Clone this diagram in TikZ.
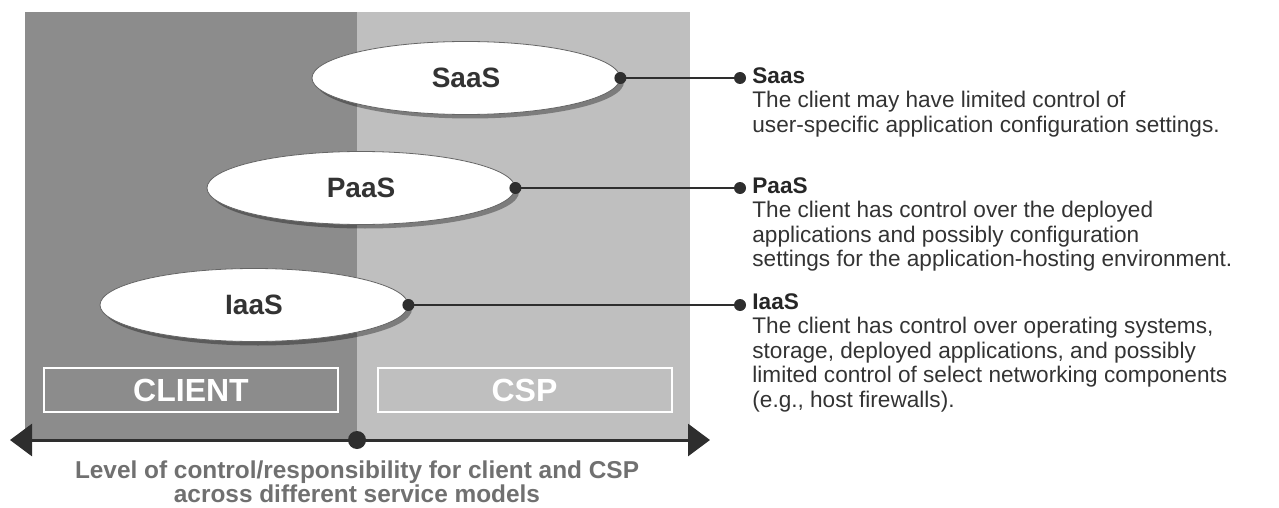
\documentclass[tikz,border=0pt]{standalone}
\usepackage{fontspec}
\setmainfont{Liberation Sans}
\usepackage{tikz}
\usetikzlibrary{arrows.meta, positioning, calc, shapes.geometric, shadows}
\definecolor{cdark}{HTML}{8C8C8C}
\definecolor{clight}{HTML}{BFBFBF}
\definecolor{ctext}{HTML}{333333}
\definecolor{ccap}{HTML}{707070}
\definecolor{cline}{HTML}{2E2E2E}

\begin{document}
\begin{tikzpicture}[x=0.5pt, y=-0.5pt,
  model/.style={ellipse, fill=white, draw=gray!80!black, line width=0.4pt,
    minimum width=154pt, minimum height=36.5pt, inner sep=0pt,
    font=\fontsize{14}{16}\selectfont\bfseries, text=ctext,
    drop shadow={shadow xshift=2pt, shadow yshift=-2pt, opacity=0.35, fill=black}},
  side/.style={draw=white, line width=1pt, minimum width=147pt, minimum height=22pt,
    inner sep=0pt, font=\fontsize{16}{18}\selectfont\bfseries, text=white},
  desc/.style={anchor=north west, align=left, inner sep=0pt, text=ctext,
    font=\fontsize{11.3}{12.3}\selectfont},
  dot/.style={circle, fill=cline, inner sep=0pt, minimum size=6pt}]
  \useasboundingbox (0,0) rectangle (1279,508);

  % Draw panels
  \fill[cdark] (25,12) rectangle (357,440);
  \fill[clight] (357,12) rectangle (690,440);

  % Service models
  \foreach \name/\lbl/\cx/\cy in {saas/SaaS/466/78, paas/PaaS/361/188, iaas/IaaS/254/305}{
    \node[model] (\name) at (\cx,\cy) {\lbl};
    \coordinate (\name-end) at (740,\cy);
  }

  % Side labels
  \node[side] (client) at (191,390) {CLIENT};
  \node[side] (csp) at (524.5,390) {CSP};

  % Connectors
  \foreach \name in {saas, paas, iaas}{
    \draw[cline, line width=0.6pt] (\name.east) -- (\name-end);
    \node[dot] at (\name.east) {};
    \node[dot] at (\name-end) {};
  }

  % Descriptions
  \node[desc] (dsaas) at (752,67) {{\bfseries\color{black!85}Saas}\\
    The client may have limited control of\\
    user-specific application configuration settings.};
  \node[desc] (dpaas) at (752,177) {{\bfseries\color{black!85}PaaS}\\
    The client has control over the deployed\\
    applications and possibly configuration\\
    settings for the application-hosting environment.};
  \node[desc] (diaas) at (752,293) {{\bfseries\color{black!85}IaaS}\\
    The client has control over operating systems,\\
    storage, deployed applications, and possibly\\
    limited control of select networking components\\
    (e.g., host firewalls).};

  % Axis
  \coordinate (axl) at (10,440);
  \coordinate (axr) at (710,440);
  \draw[cline, line width=1.5pt, {Triangle[length=11pt, width=16pt]}-{Triangle[length=11pt, width=16pt]}] (axl) -- (axr);
  \node[circle, fill=cline, inner sep=0pt, minimum size=9pt] (mid) at (357,440) {};
  \node[below=2pt of mid, align=center, text=ccap, font=\fontsize{12.2}{12}\selectfont\bfseries] (caption)
    {Level of control/responsibility for client and CSP\\ across different service models};
\end{tikzpicture}
\end{document}
